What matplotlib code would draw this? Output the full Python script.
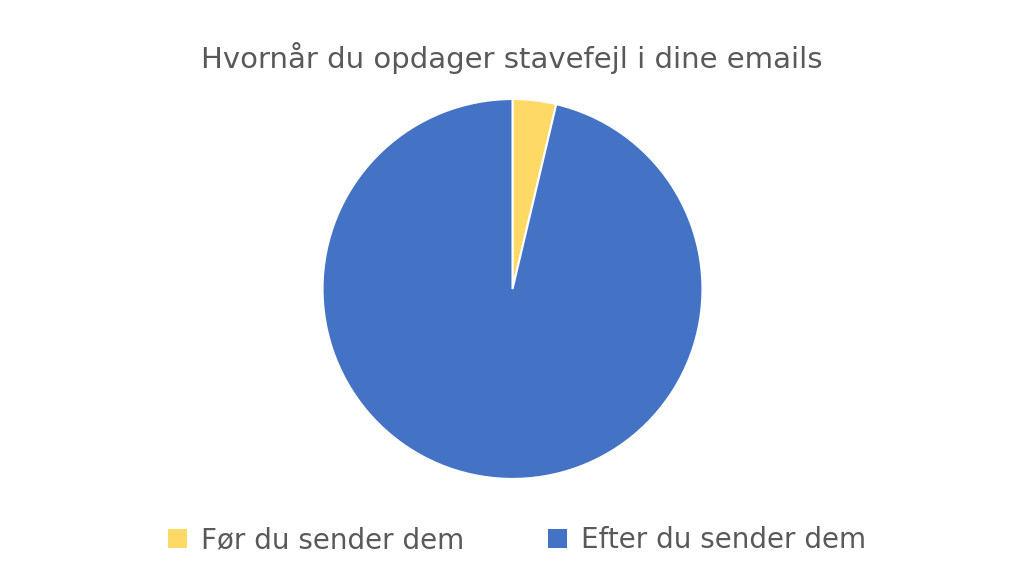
import matplotlib.pyplot as plt
from matplotlib.patches import Patch

labels = ["Før du sender dem", "Efter du sender dem"]
values = [3.7, 96.3]
colors = ["#FFD966", "#4472C4"]

fig = plt.figure(figsize=(10.24, 5.85), dpi=100)
ax = fig.add_axes([0.315, 0.181, 0.371, 0.65])
ax.pie(values, colors=colors, startangle=90, counterclock=False,
       wedgeprops=dict(edgecolor="white", linewidth=1.5))
ax.set_xlim(-1.0, 1.0)
ax.set_ylim(-1.0, 1.0)
ax.set_aspect("equal")

fig.text(0.5, 0.9, "Hvornår du opdager stavefejl i dine emails",
         ha="center", va="center", fontsize=21, color="#595959")

handles = [Patch(facecolor=c) for c in colors]
fig.legend(handles, labels, loc="center", bbox_to_anchor=(0.505, 0.077), ncol=2,
           frameon=False, fontsize=20, labelcolor="#595959",
           handlelength=0.7, handleheight=0.7, columnspacing=3.0, handletextpad=0.5)

fig.savefig("out.png", dpi=100)
